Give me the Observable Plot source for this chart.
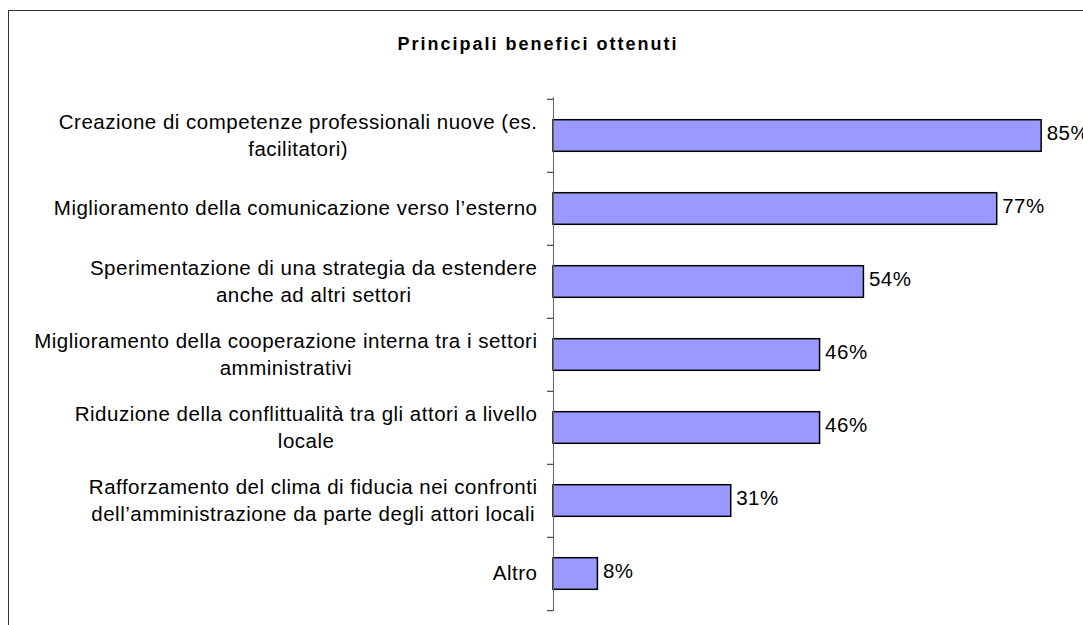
<!DOCTYPE html>
<html><head><meta charset="utf-8">
<script src="https://cdn.jsdelivr.net/npm/d3@7"></script>
<script src="https://cdn.jsdelivr.net/npm/@observablehq/plot@0.6"></script>
<style>
html,body{margin:0;padding:0;width:1083px;height:625px;overflow:hidden;background:#fff;font-family:"Liberation Sans",Arial,sans-serif;}
#wrap{position:relative;width:1083px;height:625px;overflow:hidden;}
#frame{position:absolute;left:8px;top:10px;width:1100px;height:700px;border:1px solid #333;box-sizing:border-box;}
#title{position:absolute;left:0;width:1076px;top:34px;text-align:center;font-weight:bold;font-size:18px;letter-spacing:2px;color:#000;}
#chart{position:absolute;left:0;top:0;width:1140px;}
#chart svg{max-width:none !important;}
#chart svg text{letter-spacing:0.5px;}
</style></head><body>
<div id="wrap">
<div id="frame"></div>
<div id="title">Principali benefici ottenuti</div>
<div id="chart"></div>
</div>
<script>
const categories = [
  "Creazione di competenze professionali nuove (es.\nfacilitatori)",
  "Miglioramento della comunicazione verso l’esterno",
  "Sperimentazione di una strategia da estendere\nanche ad altri settori",
  "Miglioramento della cooperazione interna tra i settori\namministrativi",
  "Riduzione della conflittualità tra gli attori a livello\nlocale",
  "Rafforzamento del clima di fiducia nei confronti\ndell’amministrazione da parte degli attori locali",
  "Altro"
];
const values = [84.6, 76.9, 53.8, 46.2, 46.2, 30.8, 7.7];
const valueLabels = ["85%", "77%", "54%", "46%", "46%", "31%", "8%"];

const W = 1140, H = 625, mL = 553, mR = 10, mT = 97, mB = 14;
const xMax = 100;
const k = (W - mL - mR) / xMax;
const bw = (H - mT - mB) / categories.length;
const fontSize = 20.5, ls = 0.5, gap = 16;

const ctx = document.createElement("canvas").getContext("2d");
ctx.font = `${fontSize}px "Liberation Sans"`;
const blockWidth = s => d3.max(s.split("\n"), l => ctx.measureText(l).width + l.length * ls);

const data = categories.map((c, i) => ({cat: c, value: values[i], label: valueLabels[i], w: blockWidth(c)}));

const chart = Plot.plot({
  width: W, height: H,
  marginLeft: mL, marginRight: mR, marginTop: mT, marginBottom: mB,
  style: {fontFamily: '"Liberation Sans", Arial, sans-serif', background: "transparent", overflow: "visible", maxWidth: "none"},
  x: {domain: [0, xMax], axis: null},
  y: {domain: categories, padding: 0, axis: null},
  marks: [
    Plot.barX(data, {x: "value", y: "cat", fill: "#9999ff", stroke: "#000", strokeWidth: 1.5,
      insetTop: 20.7, insetBottom: 20.7}),
    Plot.ruleX([0], {stroke: "#666", strokeWidth: 1}),
    Plot.ruleY(categories, {y: d => d, x1: -6 / k, x2: 0, dy: -bw / 2, stroke: "#222"}),
    Plot.ruleY(categories.slice(-1), {y: d => d, x1: -6 / k, x2: 0, dy: bw / 2, stroke: "#222"}),
    Plot.text(data, {x: "value", y: "cat", text: "label", textAnchor: "start", dx: 5, dy: -2.5,
      fontSize: fontSize, fill: "#000"}),
    Plot.text(data, {x: d => -(gap + d.w / 2) / k, y: "cat", text: "cat", textAnchor: "middle",
      lineAnchor: "middle", lineHeight: 1.32, dy: -2.5, fontSize: fontSize, fill: "#000"})
  ]
});
document.getElementById("chart").appendChild(chart);
</script>
</body></html>
